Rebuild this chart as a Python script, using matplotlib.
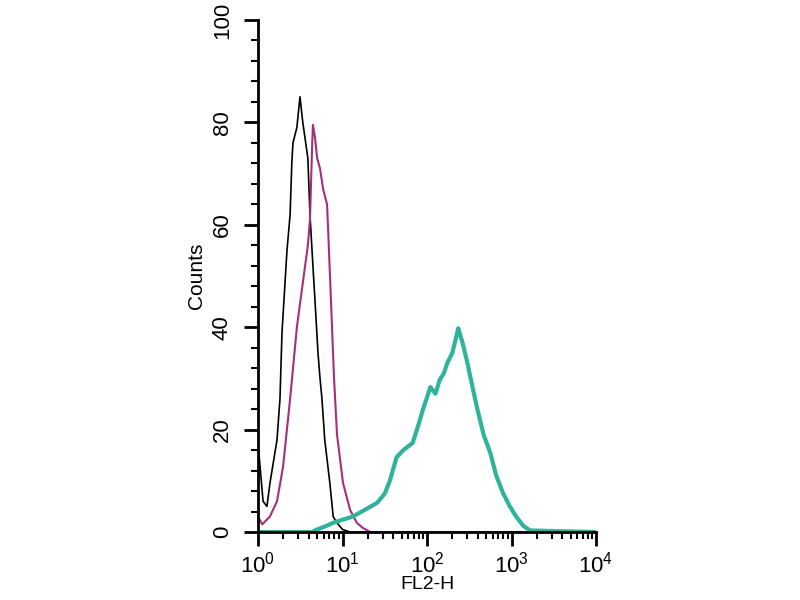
import numpy as np
import matplotlib
matplotlib.use('Agg')
import matplotlib.pyplot as plt
from matplotlib.ticker import MultipleLocator, FixedLocator

plt.rcParams['font.family'] = ['Liberation Sans', 'DejaVu Sans']
plt.rcParams['mathtext.fontset'] = 'custom'
plt.rcParams['mathtext.rm'] = 'Liberation Sans'
plt.rcParams['mathtext.default'] = 'regular'

# log10(FL2-H) positions and counts
black_logx = [0.0, 0.06, 0.106, 0.142, 0.225, 0.26, 0.284, 0.343, 0.38, 0.40, 0.414,
              0.46, 0.497, 0.53, 0.556, 0.59, 0.615, 0.65, 0.675, 0.71, 0.734, 0.757,
              0.79, 0.85, 0.89, 0.935, 1.0, 1.09, 4.0]
black_counts = [17.4, 6, 5, 9.6, 18, 26, 39, 55, 62, 72, 76,
                79, 85, 80, 77, 73, 62, 52, 45, 35, 30, 26,
                18, 9.6, 3, 1.8, 0.5, 0, 0]

magenta_logx = [0.0, 0.05, 0.14, 0.225, 0.296, 0.38, 0.46, 0.53, 0.59, 0.615, 0.64,
                0.65, 0.675, 0.70, 0.734, 0.77, 0.817, 0.83, 0.864, 0.9, 0.935,
                1.006, 1.09, 1.17, 1.24, 1.33, 4.0]
magenta_counts = [3, 1.5, 3, 6, 12.7, 26, 40, 48.6, 56, 61, 75,
                  79.5, 77, 73, 71, 67, 64, 59, 45, 30, 19,
                  9.6, 4.3, 1.8, 0.8, 0, 0]

teal_logx = [0.0, 0.65, 0.67, 0.78, 0.89, 1.0, 1.12, 1.25, 1.41, 1.5, 1.56, 1.64, 1.72,
             1.83, 1.9, 1.95, 2.04, 2.1, 2.15, 2.2, 2.24, 2.3, 2.37, 2.42, 2.47,
             2.53, 2.59, 2.67, 2.75, 2.82, 2.9, 2.98, 3.06, 3.14, 3.22, 4.0]
teal_counts = [0, 0, 0.3, 1.0, 1.8, 2.4, 3, 4.2, 5.7, 7.5, 10, 14.6, 16,
               17.4, 21, 23.8, 28.3, 27, 29.7, 31, 33, 35, 39.8, 37, 33.6,
               29, 24.4, 19, 15.4, 11, 7.6, 5, 2.9, 1.2, 0.3, 0]

xticks_log = [0, 1, 2, 3, 4]
xtick_labels = ['$10^{%d}$' % p for p in xticks_log]
yticks = [0, 20, 40, 60, 80, 100]

fig = plt.figure(figsize=(8, 6), dpi=100)
ax = fig.add_axes([0.3225, 0.1133, 0.4225, 0.8534])

ax.plot(10 ** np.array(black_logx), black_counts, color='black', lw=1.2)
ax.plot(10 ** np.array(magenta_logx), magenta_counts, color='#a3307f', lw=1.5)
ax.plot(10 ** np.array(teal_logx), teal_counts, color='#2fb49b', lw=3)

ax.set_xscale('log')
ax.set_xlim(1, 1e4)
ax.set_ylim(0, 100)

for s in ['top', 'right']:
    ax.spines[s].set_visible(False)
for s in ['left', 'bottom']:
    ax.spines[s].set_linewidth(2)

ax.xaxis.set_major_locator(FixedLocator([10 ** p for p in xticks_log]))
ax.set_xticklabels(xtick_labels)
minor = [m * 10 ** p for p in range(4) for m in range(2, 10)]
ax.xaxis.set_minor_locator(FixedLocator(minor))
ax.xaxis.set_minor_formatter(plt.NullFormatter())

ax.set_yticks(yticks)
ax.yaxis.set_minor_locator(MultipleLocator(4))
for lab in ax.get_yticklabels():
    lab.set_rotation(90)
    lab.set_va('center')

ax.tick_params(which='major', direction='out', length=10, width=2, labelsize=16)
ax.tick_params(axis='x', which='major', pad=4)
ax.tick_params(axis='y', which='major', pad=8)
ax.tick_params(which='minor', direction='out', length=5, width=1.5)

ax.set_xlabel('FL2-H', fontsize=14, labelpad=-1)
ax.set_ylabel('Counts', fontsize=15, labelpad=4)

fig.savefig('out.png', dpi=100)
